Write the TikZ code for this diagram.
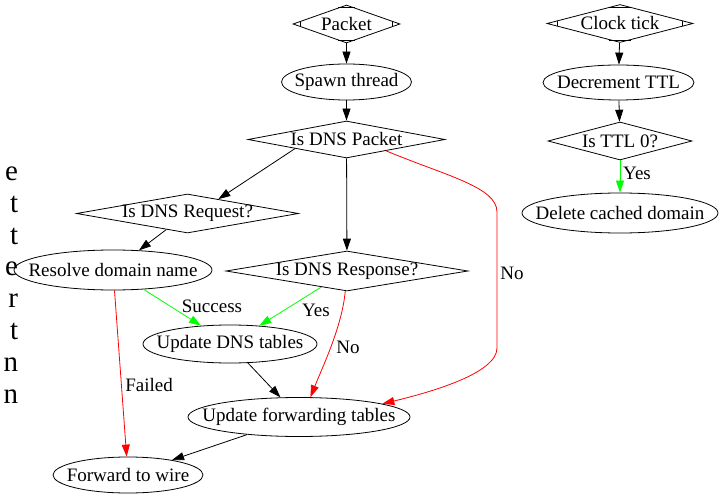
\documentclass[tikz,border=0pt]{standalone}
\usepackage{fontspec}
\setmainfont{Liberation Serif}
\usetikzlibrary{shapes.geometric,arrows.meta,calc}

\begin{document}
\begin{tikzpicture}[x=1bp, y=-1bp, font=\fontsize{19bp}{22bp}\selectfont, line width=0.8bp]
  \tikzstyle{state}=[ellipse, draw, inner xsep=-60bp, inner ysep=0pt]
  \tikzstyle{test}=[diamond, draw, aspect=4, inner xsep=-60bp, inner ysep=0pt]
  \tikzstyle{flow}=[-{Triangle[length=12bp, width=8bp]}]
  \tikzstyle{yes}=[flow, green]
  \tikzstyle{no}=[flow, red]
  \tikzstyle{lbl}=[inner sep=0pt]

  \useasboundingbox (0,0) rectangle (728,494);

  % cut-off text at the left border
  \foreach \l [count=\i] in {e,t,t,e,r,t,n,n}
    \node[anchor=base east, inner sep=0pt, font=\fontsize{29bp}{32bp}\selectfont] (cut\i) at (18.5,{180.5+31.8*(\i-1)}) {\l};

  % = packet handling =
  \node[test, minimum width=107bp, minimum height=38bp] (packet) at (346.5,24) {Packet};
  \node[state, minimum width=130bp, minimum height=36bp] (spawn) at (346.5,82) {Spawn thread};
  \node[test, minimum width=197bp, minimum height=37bp] (dnspkt) at (346.5,139.5) {Is DNS Packet};
  \node[test, minimum width=222bp, minimum height=39bp] (dnsreq) at (187.5,213.5) {Is DNS Request?};
  \node[state, minimum width=198bp, minimum height=40bp] (resolve) at (113,270) {Resolve domain name};
  \node[test, minimum width=242bp, minimum height=40bp] (dnsresp) at (347,271) {Is DNS Response?};
  \node[state, minimum width=174bp, minimum height=38bp] (upddns) at (230,344) {Update DNS tables};
  \node[state, minimum width=222bp, minimum height=39bp] (updfwd) at (299,417) {Update forwarding tables};
  \node[state, minimum width=150bp, minimum height=36bp] (forward) at (128,475) {Forward to wire};

  % = clock handling =
  \node[test, minimum width=146bp, minimum height=38bp] (clock) at (620,23.5) {Clock tick};
  \node[state, minimum width=151bp, minimum height=35bp] (decr) at (618.5,82.5) {Decrement TTL};
  \node[test, minimum width=144bp, minimum height=38bp] (ttlzero) at (620,141) {Is TTL 0?};
  \node[state, minimum width=196bp, minimum height=40bp] (delete) at (620,213) {Delete cached domain};

  % marks in the corners of the start diamonds
  \foreach \n in {packet,clock} {
    \draw ($(\n.west)!.15!(\n.north)$) -- ($(\n.west)!.15!(\n.south)$);
    \draw ($(\n.east)!.15!(\n.north)$) -- ($(\n.east)!.15!(\n.south)$);
    \draw ($(\n.north)!.15!(\n.west)$) -- ($(\n.north)!.15!(\n.east)$);
    \draw ($(\n.south)!.15!(\n.west)$) -- ($(\n.south)!.15!(\n.east)$);
  }

  % bends of the long "No" edge
  \coordinate (bendtop) at (497,212);
  \coordinate (bendbot) at (497,348);

  \draw[flow] (packet) -- (spawn);
  \draw[flow] (spawn) -- (dnspkt);
  \draw[flow] (dnspkt.190) -- (dnsreq.25);
  \draw[flow] (dnspkt) -- (dnsresp);
  \draw[flow] (dnsreq) -- (resolve);
  \draw[yes] (resolve) -- (upddns);
  \draw[no] (resolve) -- (forward);
  \draw[yes] (dnsresp) -- (upddns);
  \draw[no] (dnsresp.265) .. controls +(-3,35) and +(12,-30) .. (updfwd.60);
  \draw[no] (dnspkt.-16) .. controls +(60,25) and +(0,-25) .. (bendtop)
      -- (bendbot) .. controls +(0,25) and +(50,-12) .. (updfwd.9);
  \draw[flow] (upddns) -- (updfwd);
  \draw[flow] (updfwd) -- (forward);

  \draw[flow] (clock) -- (decr);
  \draw[flow] (decr) -- (ttlzero);
  \draw[yes] (ttlzero) -- (delete);

  % edge labels
  \node[lbl] (success) at (212,306) {Success};
  \node[lbl] (failed) at (149,385) {Failed};
  \node[lbl] (respyes) at (316,310) {Yes};
  \node[lbl] (respno) at (348,347) {No};
  \node[lbl] (pktno) at (512,273) {No};
  \node[lbl] (ttlyes) at (637,173) {Yes};
\end{tikzpicture}
\end{document}
